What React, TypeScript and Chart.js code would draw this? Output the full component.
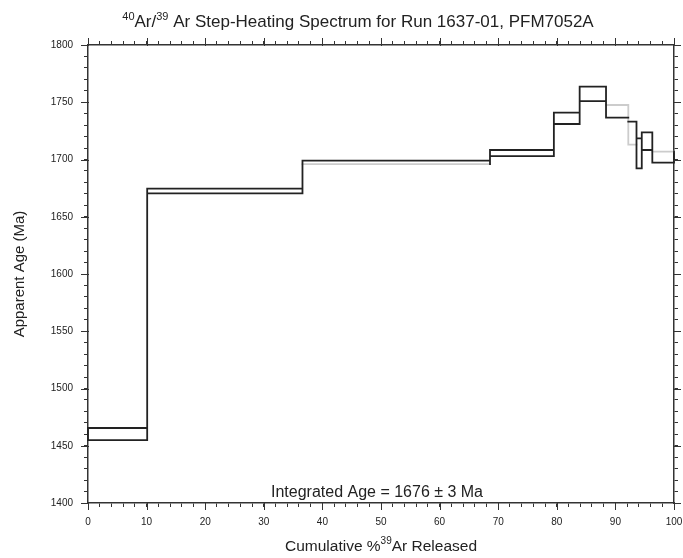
import React, { useEffect, useRef } from 'react';
import { Chart, registerables } from 'chart.js';

Chart.register(...registerables);

// Step boundaries (cumulative % 39Ar released)
const cumulativePct = [0, 10.1, 36.6, 68.6, 79.5, 83.9, 88.4, 92.2, 93.6, 94.5, 96.3, 100];
// Apparent age envelope of each step (Ma)
const ageLow = [1455, 1670.5, 1696, 1703, 1731, 1751, 1736.5, 1713, 1692.3, 1708.3, 1697.2];
const ageHigh = [1465.5, 1674.5, 1699, 1708.3, 1741, 1763.6, 1747.6, 1733, 1718.5, 1723.7, 1706.8];
// which envelope edge of a step is drawn faint (light grey) in the original
const faintEdge = ['', '', 'low', '', '', '', 'high', 'low', '', '', 'high'];

const xMajorTicks = [0, 10, 20, 30, 40, 50, 60, 70, 80, 90, 100];
const yMajorTicks = [1400, 1450, 1500, 1550, 1600, 1650, 1700, 1750, 1800];
const integratedAge = 1676;
const integratedError = 3;

const FONT = '"Liberation Sans", Arial, Helvetica, sans-serif';
const INK = '#222222';
const FAINT = '#cccccc';

type Seg = { xa: number; ya: number; xb: number; yb: number; faint: boolean };

function buildSegments(): Seg[] {
  const segs: Seg[] = [];
  const n = ageLow.length;
  for (let i = 0; i < n; i++) {
    const x0 = cumulativePct[i];
    const x1 = cumulativePct[i + 1];
    const lo = ageLow[i];
    const hi = ageHigh[i];
    const f = faintEdge[i] !== '';
    const prevF = i > 0 && faintEdge[i - 1] !== '';
    const nextF = i < n - 1 && faintEdge[i + 1] !== '';
    segs.push({ xa: x0, ya: hi, xb: x1, yb: hi, faint: faintEdge[i] === 'high' });
    segs.push({ xa: x0, ya: lo, xb: x1, yb: lo, faint: faintEdge[i] === 'low' });
    segs.push({ xa: x0, ya: lo, xb: x0, yb: hi, faint: f && prevF });
    segs.push({ xa: x1, ya: lo, xb: x1, yb: hi, faint: f && nextF });
    if (i < n - 1) {
      segs.push({ xa: x1, ya: hi, xb: x1, yb: ageHigh[i + 1], faint: f && nextF });
      segs.push({ xa: x1, ya: lo, xb: x1, yb: ageLow[i + 1], faint: f && nextF });
    }
  }
  return segs;
}

function toPoints(segs: Seg[]) {
  const pts: { x: number; y: number | null }[] = [];
  segs.forEach((s) => {
    pts.push({ x: s.xa, y: s.ya });
    pts.push({ x: s.xb, y: s.yb });
    pts.push({ x: s.xb, y: null });
  });
  return pts;
}

function drawRich(
  ctx: CanvasRenderingContext2D,
  parts: { t: string; sup?: boolean }[],
  cx: number,
  baseline: number,
  size: number
) {
  const supSize = Math.round(size * 0.62);
  const widths = parts.map((p) => {
    ctx.font = `${p.sup ? supSize : size}px ${FONT}`;
    return ctx.measureText(p.t).width;
  });
  const total = widths.reduce((a, b) => a + b, 0);
  let x = cx - total / 2;
  ctx.textAlign = 'left';
  ctx.textBaseline = 'alphabetic';
  parts.forEach((p, i) => {
    ctx.font = `${p.sup ? supSize : size}px ${FONT}`;
    ctx.fillText(p.t, x, p.sup ? baseline - size * 0.42 : baseline);
    x += widths[i];
  });
}

const decorPlugin = {
  id: 'decor',
  afterDraw(chart: any) {
    const ctx: CanvasRenderingContext2D = chart.ctx;
    const { x, y, x2, y2 } = chart.scales;
    const area = chart.chartArea;
    ctx.save();
    // major tick extensions
    ctx.strokeStyle = '#333333';
    ctx.lineWidth = 1;
    const L = 7;
    ctx.beginPath();
    xMajorTicks.forEach((v) => {
      const px = Math.round(x.getPixelForValue(v)) + 0.5;
      ctx.moveTo(px, area.bottom - 1);
      ctx.lineTo(px, area.bottom + L);
      const pt = Math.round(x2.getPixelForValue(v)) + 0.5;
      ctx.moveTo(pt, area.top + 1);
      ctx.lineTo(pt, area.top - L);
    });
    yMajorTicks.forEach((v) => {
      const py = Math.round(y.getPixelForValue(v)) + 0.5;
      ctx.moveTo(area.left + 1, py);
      ctx.lineTo(area.left - L, py);
      const pr = Math.round(y2.getPixelForValue(v)) + 0.5;
      ctx.moveTo(area.right - 1, pr);
      ctx.lineTo(area.right + L, pr);
    });
    ctx.stroke();

    ctx.fillStyle = INK;
    // title
    drawRich(
      ctx,
      [
        { t: '40', sup: true },
        { t: 'Ar/' },
        { t: '39', sup: true },
        { t: ' Ar Step-Heating Spectrum for Run 1637-01, PFM7052A' },
      ],
      358,
      27,
      17
    );
    // x axis title
    drawRich(
      ctx,
      [{ t: 'Cumulative %' }, { t: '39', sup: true }, { t: 'Ar Released' }],
      (area.left + area.right) / 2,
      551,
      15.5
    );
    // integrated age
    drawRich(
      ctx,
      [{ t: `Integrated Age = ${integratedAge} \u00b1 ${integratedError} Ma` }],
      (area.left + area.right) / 2 - 4,
      497,
      16
    );
    ctx.restore();
  },
};

export default function App() {
  const ref = useRef<HTMLCanvasElement | null>(null);
  useEffect(() => {
    if (!ref.current) return;
    const segs = buildSegments();
    const black = segs.filter((s) => !s.faint);
    const grey = segs.filter((s) => s.faint);
    const common = {
      pointRadius: 0,
      pointHoverRadius: 0,
      fill: false,
      tension: 0,
      spanGaps: false,
      borderCapStyle: 'square' as const,
      borderWidth: 1.8,
      clip: 4,
    };
    const tickBase = {
      drawOnChartArea: false,
      drawTicks: true,
      tickLength: 4,
      tickColor: '#333333',
      tickWidth: 1,
    };
    const border = { display: true, color: '#333333', width: 1.5 };
    const noPad = (s: any) => {
      s.paddingLeft = 0;
      s.paddingRight = 0;
      s.paddingTop = 0;
      s.paddingBottom = 0;
    };
    const chart = new Chart(ref.current, {
      type: 'line',
      data: {
        datasets: [
          { ...common, label: 'spectrum', data: toPoints(black), borderColor: INK },
          { ...common, label: 'spectrum-faint', data: toPoints(grey), borderColor: FAINT },
        ],
      },
      options: {
        animation: false,
        responsive: false,
        devicePixelRatio: 1,
        layout: { padding: 0 },
        plugins: { legend: { display: false }, tooltip: { enabled: false }, title: { display: false } },
        scales: {
          x: {
            type: 'linear',
            position: 'bottom',
            min: 0,
            max: 100,
            grid: tickBase,
            border,
            ticks: {
              stepSize: 2,
              autoSkip: false,
              maxRotation: 0,
              padding: 9,
              color: INK,
              font: { family: FONT, size: 10 },
              callback: (v: any) => (Number(v) % 10 === 0 ? String(v) : ''),
            },
            afterFit: (s: any) => {
              s.height = 55;
              noPad(s);
            },
          },
          x2: {
            type: 'linear',
            position: 'top',
            min: 0,
            max: 100,
            grid: tickBase,
            border,
            ticks: { stepSize: 2, autoSkip: false, display: false },
            afterFit: (s: any) => {
              s.height = 45;
              noPad(s);
            },
          },
          y: {
            type: 'linear',
            position: 'left',
            min: 1400,
            max: 1800,
            grid: tickBase,
            border,
            ticks: {
              stepSize: 10,
              autoSkip: false,
              padding: 11,
              color: INK,
              font: { family: FONT, size: 10 },
              callback: (v: any) => (Number(v) % 50 === 0 ? String(v) : ''),
            },
            title: {
              display: true,
              text: 'Apparent Age (Ma)',
              color: INK,
              font: { family: FONT, size: 15 },
              padding: { top: 11, bottom: 0 },
            },
            afterFit: (s: any) => {
              s.width = 88;
              noPad(s);
            },
          },
          y2: {
            type: 'linear',
            position: 'right',
            min: 1400,
            max: 1800,
            grid: tickBase,
            border,
            ticks: { stepSize: 10, autoSkip: false, display: false },
            afterFit: (s: any) => {
              s.width = 9;
              noPad(s);
            },
          },
        },
      },
      plugins: [decorPlugin],
    } as any);
    return () => chart.destroy();
  }, []);
  return (
    <div style={{ position: 'absolute', left: 0, top: 0, width: 683, height: 558, background: '#fff' }}>
      <canvas ref={ref} width={683} height={558} style={{ display: 'block' }} />
    </div>
  );
}
